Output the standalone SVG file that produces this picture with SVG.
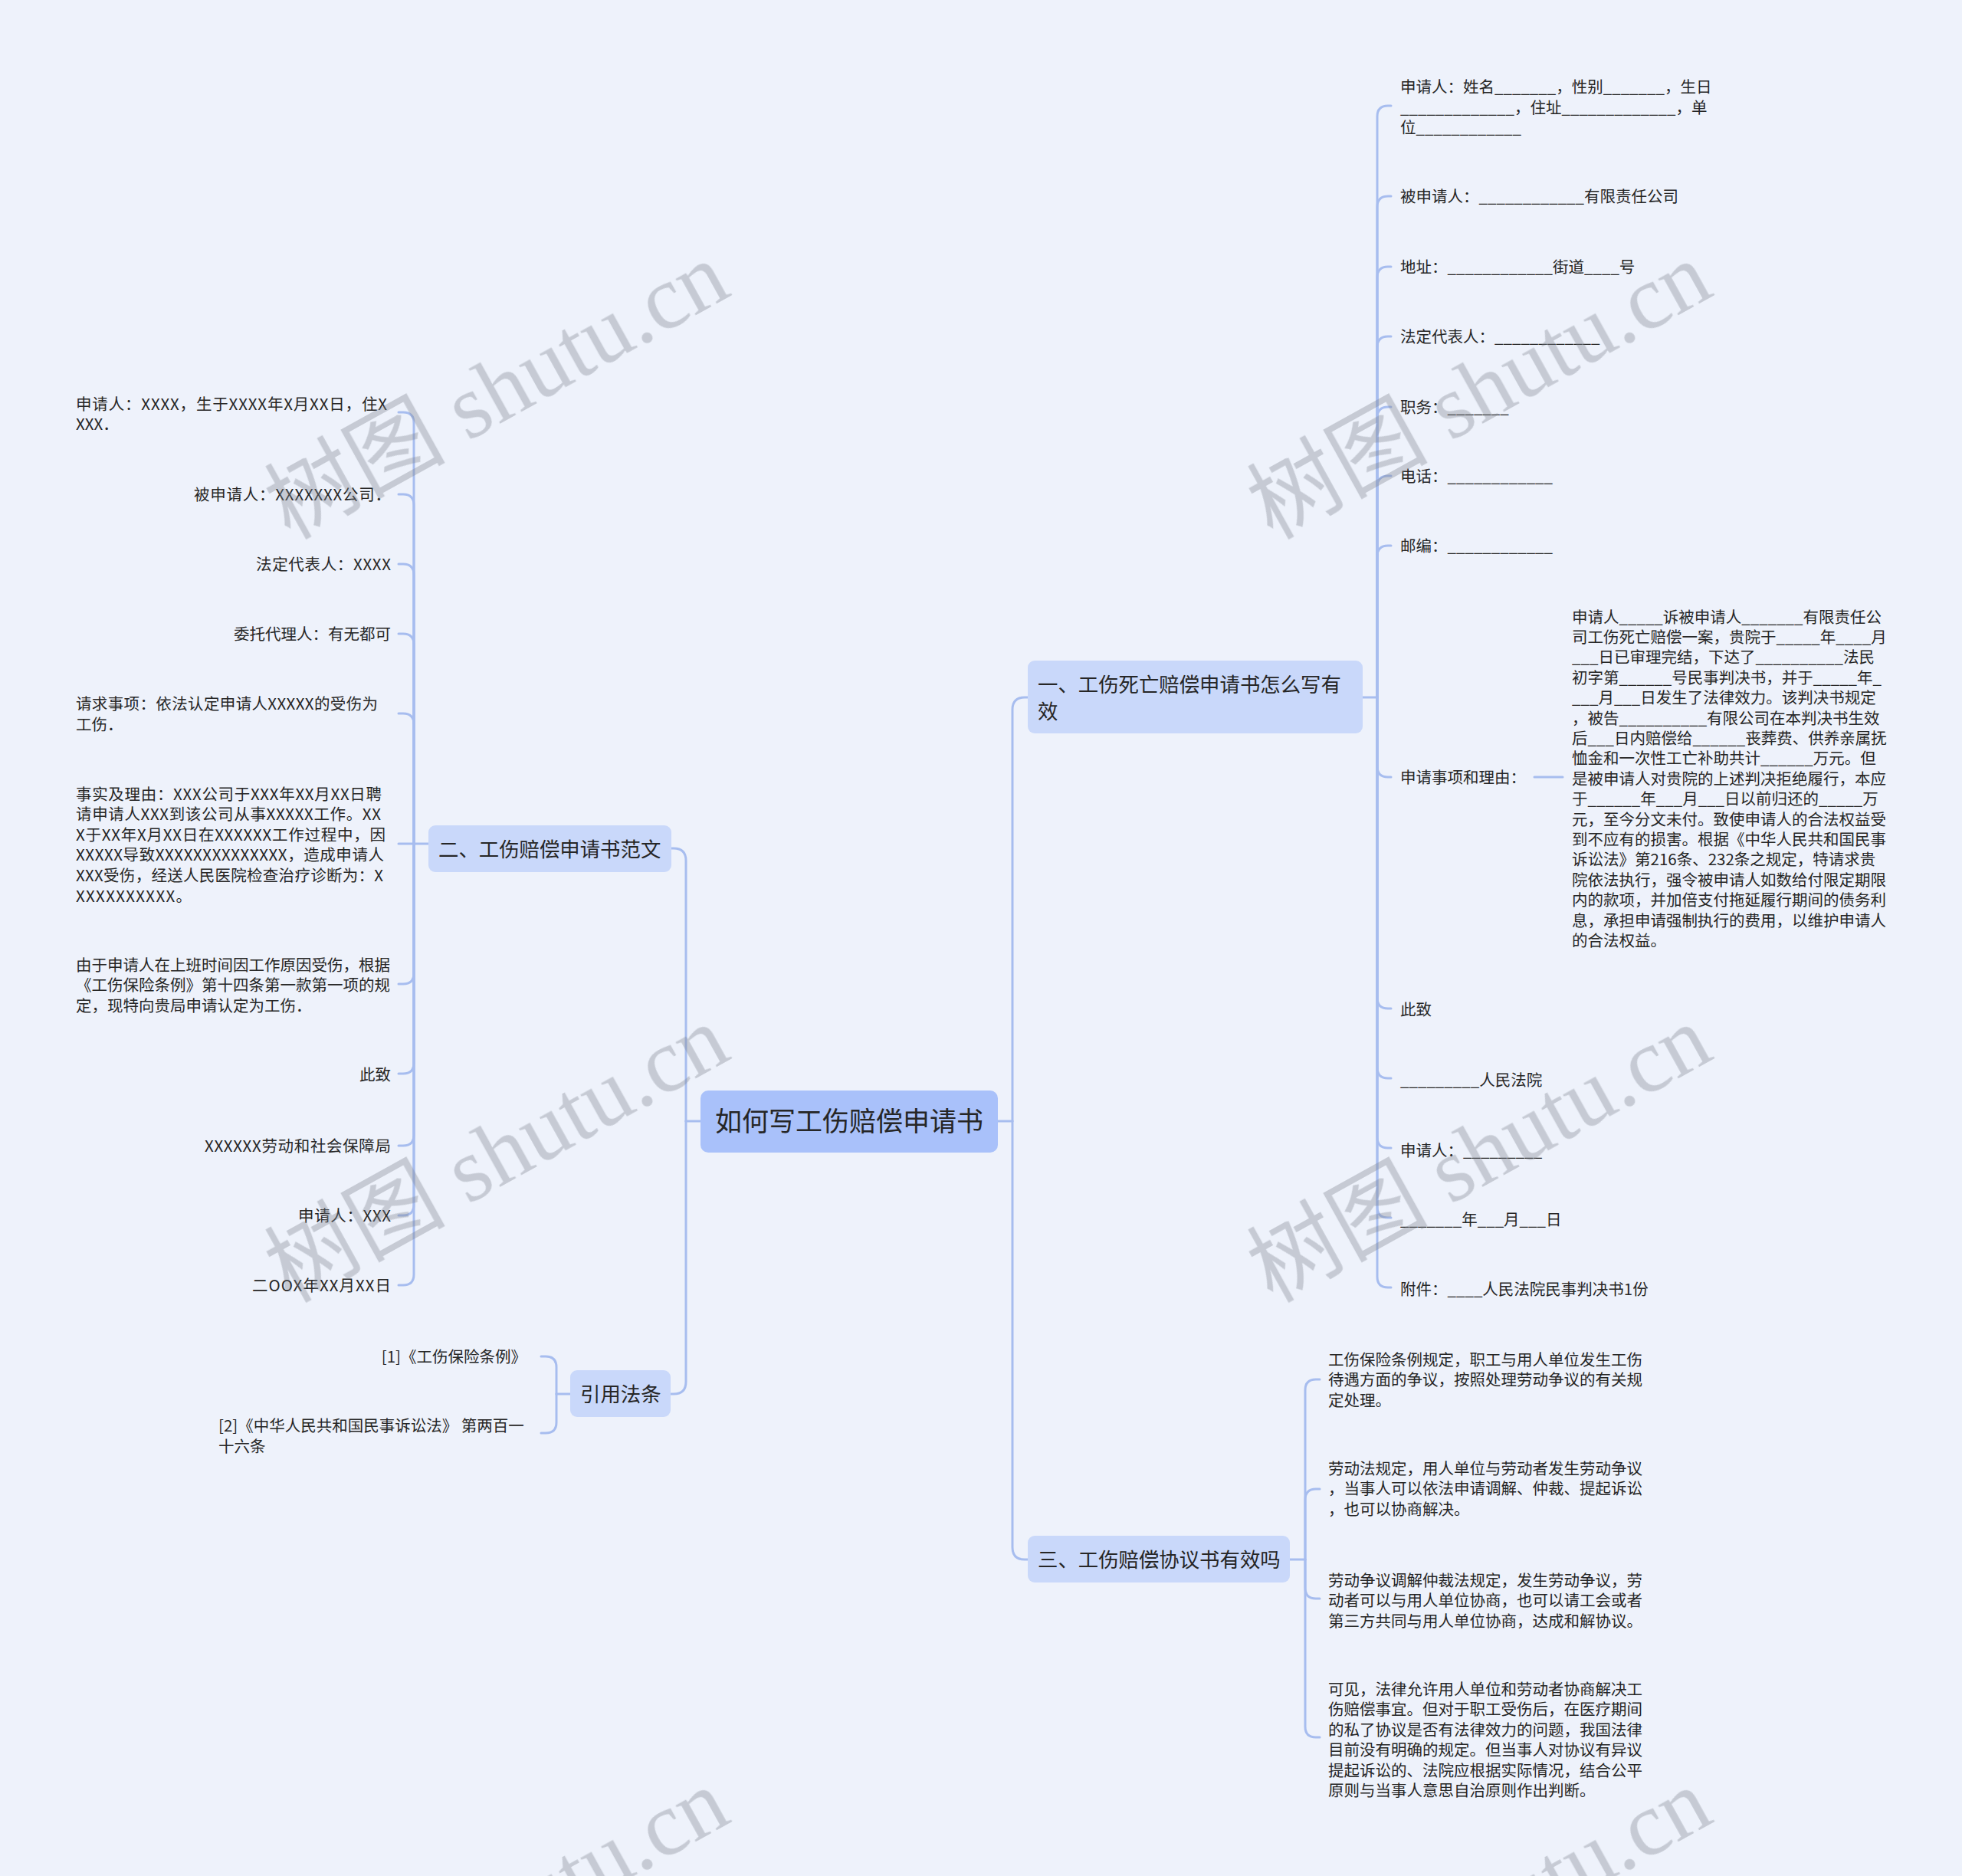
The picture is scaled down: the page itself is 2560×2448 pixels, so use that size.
<svg xmlns="http://www.w3.org/2000/svg" width="2560" height="2448" viewBox="0 0 2560 2448">
<style>
.t{font-family:"Noto Sans CJK SC","Noto Sans",sans-serif;font-size:20.5px;fill:#262626}
.r{text-anchor:end}
.h1{font-size:26.4px}
.c{font-size:35px;text-anchor:middle}
.n1{fill:#c9d8fa}
.n0{fill:#a9c1fa}
.ln{fill:none;stroke:#a7bdef;stroke-width:3;stroke-linecap:round}
.wm{font-family:"Liberation Serif","Noto Sans CJK SC",serif;font-size:118px;fill:#7f8590;opacity:.36}
</style>
<rect x="0" y="0" width="2560" height="2448" fill="#eef2fb"/>
<g id="connectors" class="ln">
<path d="M1302,1463 H1321"/>
<path d="M1321,1463 V926 Q1321,910 1337,910 H1341"/>
<path d="M1321,1463 V2019 Q1321,2035 1337,2035 H1341"/>
<path d="M914,1463 H895"/>
<path d="M895,1463 V1123 Q895,1107 879,1107 H876"/>
<path d="M895,1463 V1803 Q895,1819 879,1819 H875"/>
<path d="M559,1101 H540"/>
<path d="M540,1101 V552 Q540,538 526,538 H520"/>
<path d="M540,1101 V659 Q540,645 526,645 H520"/>
<path d="M540,1101 V750 Q540,736 526,736 H520"/>
<path d="M540,1101 V841 Q540,827 526,827 H520"/>
<path d="M540,1101 V945 Q540,931 526,931 H520"/>
<path d="M540,1101 H520"/>
<path d="M540,1101 V1270 Q540,1284 526,1284 H520"/>
<path d="M540,1101 V1387 Q540,1401 526,1401 H520"/>
<path d="M540,1101 V1481 Q540,1495 526,1495 H520"/>
<path d="M540,1101 V1572 Q540,1586 526,1586 H520"/>
<path d="M540,1101 V1663 Q540,1677 526,1677 H520"/>
<path d="M744,1819 H726"/>
<path d="M726,1819 V1784 Q726,1770 712,1770 H706"/>
<path d="M726,1819 V1856 Q726,1870 712,1870 H706"/>
<path d="M1778,910 H1797"/>
<path d="M1797,910 V152 Q1797,138 1811,138 H1815"/>
<path d="M1797,910 V270 Q1797,256 1811,256 H1815"/>
<path d="M1797,910 V362 Q1797,348 1811,348 H1815"/>
<path d="M1797,910 V453 Q1797,439 1811,439 H1815"/>
<path d="M1797,910 V545 Q1797,531 1811,531 H1815"/>
<path d="M1797,910 V635 Q1797,621 1811,621 H1815"/>
<path d="M1797,910 V726 Q1797,712 1811,712 H1815"/>
<path d="M1797,910 V1000 Q1797,1014 1811,1014 H1815"/>
<path d="M1797,910 V1302 Q1797,1316 1811,1316 H1815"/>
<path d="M1797,910 V1393 Q1797,1407 1811,1407 H1815"/>
<path d="M1797,910 V1484 Q1797,1498 1811,1498 H1815"/>
<path d="M1797,910 V1575 Q1797,1589 1811,1589 H1815"/>
<path d="M1797,910 V1666 Q1797,1680 1811,1680 H1815"/>
<path d="M2002,1014 H2039"/>
<path d="M1683,2035 H1703"/>
<path d="M1703,2035 V1814 Q1703,1800 1717,1800 H1722"/>
<path d="M1703,2035 V1957 Q1703,1943 1717,1943 H1722"/>
<path d="M1703,2035 V2072 Q1703,2086 1717,2086 H1722"/>
<path d="M1703,2035 V2253 Q1703,2267 1717,2267 H1722"/>
</g>
<g id="root"><rect class="n0" x="914" y="1423" width="388" height="81" rx="10"/><text class="t c" x="1108" y="1476">如何写工伤赔偿申请书</text></g>
<g id="n1"><rect class="n1" x="1341" y="862" width="437" height="95" rx="9"/><text class="t h1"><tspan x="1354" y="902.5">一、工伤死亡赔偿申请书怎么写有</tspan><tspan x="1354" y="937.5">效</tspan></text></g>
<g id="n2"><rect class="n1" x="559" y="1077" width="317" height="61" rx="9"/><text class="t h1" x="572" y="1117.5">二、工伤赔偿申请书范文</text></g>
<g id="n3"><rect class="n1" x="1341" y="2004" width="342" height="61" rx="9"/><text class="t h1" x="1354" y="2044.5">三、工伤赔偿协议书有效吗</text></g>
<g id="n4"><rect class="n1" x="744" y="1788" width="131" height="61" rx="9"/><text class="t h1" x="757" y="1828.5">引用法条</text></g>
<g id="n1-1"><text class="t"><tspan x="1827" y="121">申请人：姓名_______，性别_______，生日</tspan><tspan x="1827" y="147.5">_____________，住址_____________，单</tspan><tspan x="1827" y="174">位____________</tspan></text></g>
<g id="n1-2"><text class="t" x="1827" y="263.5">被申请人：____________有限责任公司</text></g>
<g id="n1-3"><text class="t" x="1827" y="355.5">地址：____________街道____号</text></g>
<g id="n1-4"><text class="t" x="1827" y="446.5">法定代表人：____________</text></g>
<g id="n1-5"><text class="t" x="1827" y="538.5">职务：_______</text></g>
<g id="n1-6"><text class="t" x="1827" y="629">电话：____________</text></g>
<g id="n1-7"><text class="t" x="1827" y="720">邮编：____________</text></g>
<g id="n1-8"><text class="t" x="1827" y="1021.5">申请事项和理由：</text></g>
<g id="n1-8-1"><text class="t">
<tspan x="2051" y="812.5">申请人_____诉被申请人_______有限责任公</tspan>
<tspan x="2051" y="838.9">司工伤死亡赔偿一案，贵院于_____年____月</tspan>
<tspan x="2051" y="865.3">___日已审理完结，下达了__________法民</tspan>
<tspan x="2051" y="891.7">初字第______号民事判决书，并于_____年_</tspan>
<tspan x="2051" y="918.1">___月___日发生了法律效力。该判决书规定</tspan>
<tspan x="2051" y="944.5">，被告__________有限公司在本判决书生效</tspan>
<tspan x="2051" y="970.9">后___日内赔偿给______丧葬费、供养亲属抚</tspan>
<tspan x="2051" y="997.3">恤金和一次性工亡补助共计______万元。但</tspan>
<tspan x="2051" y="1023.7">是被申请人对贵院的上述判决拒绝履行，本应</tspan>
<tspan x="2051" y="1050.1">于______年___月___日以前归还的_____万</tspan>
<tspan x="2051" y="1076.5">元，至今分文未付。致使申请人的合法权益受</tspan>
<tspan x="2051" y="1102.9">到不应有的损害。根据《中华人民共和国民事</tspan>
<tspan x="2051" y="1129.3">诉讼法》第216条、232条之规定，特请求贵</tspan>
<tspan x="2051" y="1155.7">院依法执行，强令被申请人如数给付限定期限</tspan>
<tspan x="2051" y="1182.1">内的款项，并加倍支付拖延履行期间的债务利</tspan>
<tspan x="2051" y="1208.5">息，承担申请强制执行的费用，以维护申请人</tspan>
<tspan x="2051" y="1234.9">的合法权益。</tspan>
</text></g>
<g id="n1-9"><text class="t" x="1827" y="1325">此致</text></g>
<g id="n1-10"><text class="t" x="1827" y="1417">_________人民法院</text></g>
<g id="n1-11"><text class="t" x="1827" y="1509">申请人：_________</text></g>
<g id="n1-12"><text class="t" x="1827" y="1599">_______年___月___日</text></g>
<g id="n1-13"><text class="t" x="1827" y="1690">附件：____人民法院民事判决书1份</text></g>
<g id="n2-1"><text class="t"><tspan x="99" y="534.5" textLength="406">申请人：XXXX，生于XXXX年X月XX日，住X</tspan><tspan x="99" y="561">XXX．</tspan></text></g>
<g id="n2-2"><text class="t r" x="510" y="652.5" textLength="257">被申请人：XXXXXXX公司．</text></g>
<g id="n2-3"><text class="t r" x="510" y="743.5" textLength="176">法定代表人：XXXX</text></g>
<g id="n2-4"><text class="t r" x="510" y="834.5">委托代理人：有无都可</text></g>
<g id="n2-5"><text class="t"><tspan x="99" y="925.5" textLength="394">请求事项：依法认定申请人XXXXX的受伤为</tspan><tspan x="99" y="952.5">工伤．</tspan></text></g>
<g id="n2-6"><text class="t">
<tspan x="99" y="1043.5" textLength="399">事实及理由：XXX公司于XXX年XX月XX日聘</tspan>
<tspan x="99" y="1070.1" textLength="398">请申请人XXX到该公司从事XXXXX工作。XX</tspan>
<tspan x="99" y="1096.7" textLength="404">X于XX年X月XX日在XXXXXX工作过程中，因</tspan>
<tspan x="99" y="1123.3" textLength="402">XXXXX导致XXXXXXXXXXXXXX，造成申请人</tspan>
<tspan x="99" y="1149.9" textLength="401">XXX受伤，经送人民医院检查治疗诊断为：X</tspan>
<tspan x="99" y="1176.5" textLength="151">XXXXXXXXXX。</tspan>
</text></g>
<g id="n2-7"><text class="t"><tspan x="99" y="1266.5">由于申请人在上班时间因工作原因受伤，根据</tspan><tspan x="99" y="1293">《工伤保险条例》第十四条第一款第一项的规</tspan><tspan x="99" y="1319.5">定，现特向贵局申请认定为工伤．</tspan></text></g>
<g id="n2-8"><text class="t r" x="510" y="1409.5">此致</text></g>
<g id="n2-9"><text class="t r" x="510" y="1502.5" textLength="243">XXXXXX劳动和社会保障局</text></g>
<g id="n2-10"><text class="t r" x="510" y="1593.5" textLength="121">申请人：XXX</text></g>
<g id="n2-11"><text class="t r" x="510" y="1684.5" textLength="181">二OOX年XX月XX日</text></g>
<g id="n4-1"><text class="t r" x="687" y="1777.5">[1]《工伤保险条例》</text></g>
<g id="n4-2"><text class="t"><tspan x="285" y="1867.5">[2]《中华人民共和国民事诉讼法》 第两百一</tspan><tspan x="285" y="1894.5">十六条</tspan></text></g>
<g id="n3-1"><text class="t"><tspan x="1733" y="1781.5">工伤保险条例规定，职工与用人单位发生工伤</tspan><tspan x="1733" y="1808">待遇方面的争议，按照处理劳动争议的有关规</tspan><tspan x="1733" y="1834.5">定处理。</tspan></text></g>
<g id="n3-2"><text class="t"><tspan x="1733" y="1923.5">劳动法规定，用人单位与劳动者发生劳动争议</tspan><tspan x="1733" y="1950">，当事人可以依法申请调解、仲裁、提起诉讼</tspan><tspan x="1733" y="1976.5">，也可以协商解决。</tspan></text></g>
<g id="n3-3"><text class="t"><tspan x="1733" y="2069.5">劳动争议调解仲裁法规定，发生劳动争议，劳</tspan><tspan x="1733" y="2096">动者可以与用人单位协商，也可以请工会或者</tspan><tspan x="1733" y="2122.5">第三方共同与用人单位协商，达成和解协议。</tspan></text></g>
<g id="n3-4"><text class="t"><tspan x="1733" y="2211.5">可见，法律允许用人单位和劳动者协商解决工</tspan><tspan x="1733" y="2238">伤赔偿事宜。但对于职工受伤后，在医疗期间</tspan><tspan x="1733" y="2264.5">的私了协议是否有法律效力的问题，我国法律</tspan><tspan x="1733" y="2291">目前没有明确的规定。但当事人对协议有异议</tspan><tspan x="1733" y="2317.5">提起诉讼的、法院应根据实际情况，结合公平</tspan><tspan x="1733" y="2344">原则与当事人意思自治原则作出判断。</tspan></text></g>
<g id="watermarks" class="wm">
<text transform="translate(378,705) rotate(-29)">树图 shutu.cn</text>
<text transform="translate(1660,705) rotate(-29)">树图 shutu.cn</text>
<text transform="translate(378,1701) rotate(-29)">树图 shutu.cn</text>
<text transform="translate(1660,1701) rotate(-29)">树图 shutu.cn</text>
<text transform="translate(378,2697) rotate(-29)">树图 shutu.cn</text>
<text transform="translate(1660,2697) rotate(-29)">树图 shutu.cn</text>
</g>
</svg>
